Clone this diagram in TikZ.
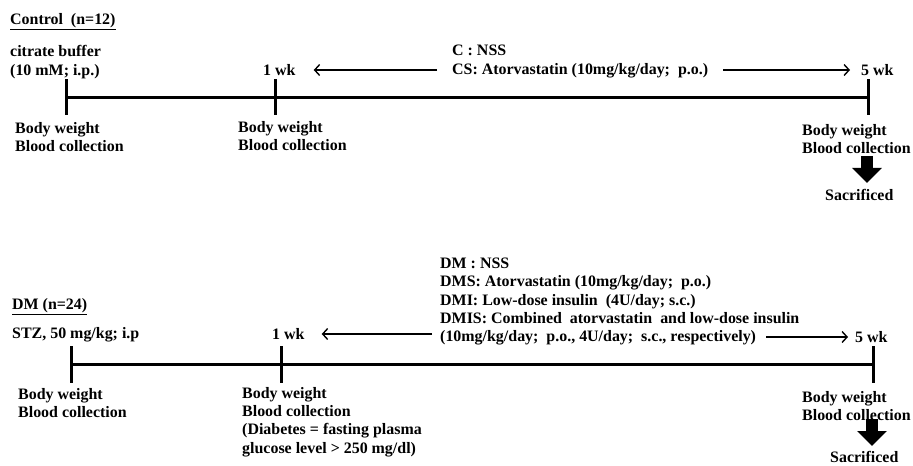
\documentclass[tikz,border=0pt]{standalone}
\usepackage{fontspec}
\setmainfont{Liberation Serif}
\usetikzlibrary{arrows.meta}
\begin{document}
\begin{tikzpicture}[x=1bp,y=-1bp,
  lbl/.style={font=\bfseries\fontsize{16}{18.5}\selectfont, inner sep=0pt, anchor=west, align=left},
  timeline/.style={line width=3bp},
  tickmark/.style={line width=3bp},
  thinarrow/.style={line width=1.4bp, -{Straight Barb[length=5bp,width=11bp]}},
  bigarrow/.style={line width=12bp, -{Triangle[length=15bp,width=29bp]}}]
\useasboundingbox (0,0) rectangle (913,466);

% ---------------- Control ----------------
\node[lbl] (ctitle) at (10,22) {\underline{Control\ \ (n=12)}};
\node[lbl] (citr) at (10,62) {citrate buffer\\(10 mM; i.p.)};
\node[lbl] (cnss) at (452,50) {C : NSS};
\node[lbl] (cs) at (452,71) {CS: Atorvastatin\ (10mg/kg/day;\ \ p.o.)};
\node[lbl] (cw1) at (263,70) {1 wk};
\node[lbl] (cw5) at (861,70) {5 wk};

\coordinate (c0) at (66,98);
\coordinate (c1) at (275,98);
\coordinate (c5) at (868,98);
\draw[timeline] (c0) -- (c5);
\foreach \p in {c0,c1,c5} \draw[tickmark] ([yshift=-17bp]\p) -- ([yshift=19bp]\p);

\node[lbl] (cb0) at (15,137) {Body weight\\Blood collection};
\node[lbl] (cb1) at (238,136) {Body weight\\Blood collection};
\node[lbl] (cb5) at (802,139) {Body weight\\Blood collection};
\node[lbl] (csac) at (825,195) {Sacrificed};

\draw[thinarrow] ([xshift=-15bp]cs.west |- cw1.east) -- ([xshift=18bp]cw1.east);
\draw[thinarrow] ([xshift=15bp]cs.east |- cw5.west) -- ([xshift=-11bp]cw5.west);
\coordinate (cd0) at (867,156);
\coordinate (cd1) at (867,183);
\draw[bigarrow] (cd0) -- (cd1);

% ---------------- DM ----------------
\node[lbl] (dtitle) at (12,307) {\underline{DM (n=24)}};
\node[lbl] (stz) at (12,335) {STZ,\ 50 mg/kg;\ i.p};
\node[lbl] (dmtxt) at (440,291) {DM : NSS\\DMS: Atorvastatin\ (10mg/kg/day;\ \ p.o.)\\DMI: Low-dose insulin\ \ (4U/day; s.c.)\\DMIS: Combined\ \ atorvastatin\ \ and low-dose insulin};
\node[lbl] (dmlast) at (440,338) {(10mg/kg/day;\ \ p.o., 4U/day;\ \ s.c., respectively)};
\node[lbl] (dw1) at (272,334) {1 wk};
\node[lbl] (dw5) at (855,337) {5 wk};

\coordinate (d0) at (71,365);
\coordinate (d1) at (281,365);
\coordinate (d5) at (873,365);
\draw[timeline] (d0) -- (d5);
\foreach \p in {d0,d1,d5} \draw[tickmark] ([yshift=-18bp]\p) -- ([yshift=19bp]\p);

\node[lbl] (db0) at (18,403) {Body weight\\Blood collection};
\node[lbl] (db1) at (242,422) {Body weight\\Blood collection\\(Diabetes = fasting plasma\\glucose level > 250 mg/dl)};
\node[lbl] (db5) at (802,406) {Body weight\\Blood collection};
\node[lbl] (dsac) at (830,457) {Sacrificed};

\draw[thinarrow] ([xshift=-8bp]dmlast.west |- dw1.east) -- ([xshift=17bp]dw1.east);
\draw[thinarrow] ([xshift=10bp]dmlast.east |- dw5.west) -- ([xshift=-7bp]dw5.west);
\coordinate (dd0) at (872,419);
\coordinate (dd1) at (872,446);
\draw[bigarrow] (dd0) -- (dd1);
\end{tikzpicture}
\end{document}
